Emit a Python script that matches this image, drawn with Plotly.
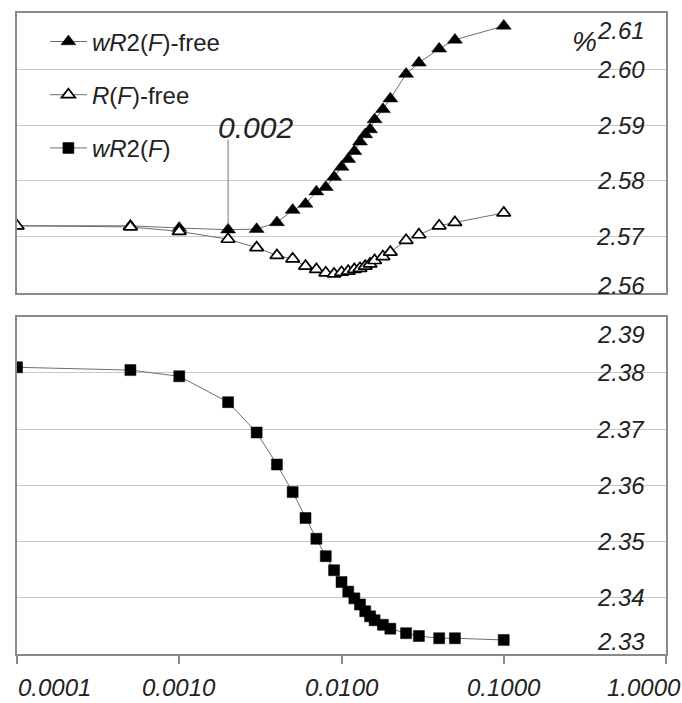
import math
import plotly.graph_objects as go

# ---------------- data ----------------
F = [0.0001, 0.0005, 0.001, 0.002, 0.003, 0.004, 0.005, 0.006, 0.007, 0.008,
     0.009, 0.010, 0.011, 0.012, 0.013, 0.014, 0.015, 0.016, 0.018, 0.020,
     0.025, 0.030, 0.040, 0.050, 0.100]

wR2_free = [2.5720, 2.5720, 2.5716, 2.5713, 2.5714, 2.5726, 2.5748, 2.5759,
            2.5781, 2.5789, 2.5807, 2.5825, 2.5839, 2.5853, 2.5870, 2.5883,
            2.5892, 2.5910, 2.5928, 2.5947, 2.5991, 2.6011, 2.6036, 2.6052,
            2.6077]

R_free = [2.5720, 2.5718, 2.5710, 2.5696, 2.5681, 2.5667, 2.5661, 2.5648,
          2.5642, 2.5636, 2.5634, 2.5637, 2.5639, 2.5642, 2.5644, 2.5648,
          2.5652, 2.5658, 2.5665, 2.5673, 2.5694, 2.5704, 2.5720, 2.5726,
          2.5743]

wR2 = [2.3810, 2.3805, 2.3794, 2.3748, 2.3694, 2.3637, 2.3588, 2.3542,
       2.3505, 2.3474, 2.3449, 2.3428, 2.3411, 2.3399, 2.3388, 2.3376,
       2.3367, 2.3360, 2.3352, 2.3345, 2.3337, 2.3332, 2.3328, 2.3328,
       2.3325]

x_tickvals = [0.0001, 0.001, 0.01, 0.1, 1.0]
x_ticktext = ["0.0001", "0.0010", "0.0100", "0.1000", "1.0000"]

top_ticks = [2.56, 2.57, 2.58, 2.59, 2.60, 2.61]
bot_ticks = [2.33, 2.34, 2.35, 2.36, 2.37, 2.38, 2.39]

annot_F = 0.002
annot_text = "0.002"

# ---------------- styles ----------------
FONT = "Liberation Sans, Arial, sans-serif"
LINE_C = "#6e6e6e"
GRID_C = "#c8c8c8"
BORDER_C = "#8a8a8a"

fig = go.Figure()

fig.add_trace(go.Scatter(
    x=F, y=wR2_free, mode="lines+markers", name="<i>wR</i>2(<i>F</i>)-free",
    legendgroup="a", xaxis="x", yaxis="y",
    line=dict(color=LINE_C, width=1),
    marker=dict(symbol="triangle-up", size=13, color="black",
                line=dict(color="black", width=0.5)),
))
fig.add_trace(go.Scatter(
    x=F, y=R_free, mode="lines+markers", name="<i>R</i>(<i>F</i>)-free",
    legendgroup="b", xaxis="x", yaxis="y",
    line=dict(color=LINE_C, width=1),
    marker=dict(symbol="triangle-up", size=12, color="white",
                line=dict(color="black", width=1.7)),
))
fig.add_trace(go.Scatter(
    x=F, y=wR2, mode="lines+markers", name="<i>wR</i>2(<i>F</i>)",
    legendgroup="c", xaxis="x2", yaxis="y2",
    line=dict(color=LINE_C, width=1),
    marker=dict(symbol="square", size=11, color="black",
                line=dict(color="black", width=0.5)),
))

axis_common = dict(showline=True, mirror=True, linecolor=BORDER_C, linewidth=1.5,
                   zeroline=False)

top_dom = [0.5632, 1.0]
bot_dom = [0.0, 0.5262]

annotations = []
# y tick labels (inside, right aligned)
for i, v in enumerate(top_ticks):
    ys = 0
    if i == 0:
        ys = 7
    elif i == len(top_ticks) - 1:
        ys = -17
    annotations.append(dict(text=f"{v:.2f}", xref="paper", x=1, xanchor="right",
                            xshift=-19, yref="y", y=v, yanchor="middle", yshift=ys,
                            showarrow=False,
                            font=dict(family=FONT, size=24, color="#222", style="italic")))
for i, v in enumerate(bot_ticks):
    ys = 0
    if i == 0:
        ys = 12
    elif i == len(bot_ticks) - 1:
        ys = -18
    annotations.append(dict(text=f"{v:.2f}", xref="paper", x=1, xanchor="right",
                            xshift=-19, yref="y2", y=v, yanchor="middle", yshift=ys,
                            showarrow=False,
                            font=dict(family=FONT, size=24, color="#222", style="italic")))
# x tick labels (log axis -> annotation x given in log10 units)
for i, (v, t) in enumerate(zip(x_tickvals, x_ticktext)):
    xs = 0
    if i == 0:
        xs = 37
    elif i == len(x_tickvals) - 1:
        xs = -22
    annotations.append(dict(text=t, xref="x2", x=math.log10(v), xanchor="center",
                            xshift=xs, yref="paper", y=0, yanchor="bottom",
                            yshift=-49, showarrow=False,
                            font=dict(family=FONT, size=24, color="#222", style="italic")))
# percent sign
annotations.append(dict(text="%", xref="paper", x=0.875, xanchor="center",
                        yref="paper", y=0.956, yanchor="middle", showarrow=False,
                        font=dict(family=FONT, size=28, color="#222", style="italic")))
# 0.002 annotation text
ai = F.index(annot_F)
annotations.append(dict(text=annot_text, xref="x", x=math.log10(annot_F), xshift=27,
                        yref="y", y=wR2_free[ai], yshift=102, xanchor="center",
                        yanchor="middle", showarrow=False,
                        font=dict(family=FONT, size=30, color="#222", style="italic")))

shapes = [dict(type="line", xref="x", yref="y", x0=annot_F, x1=annot_F,
               ysizemode="pixel", yanchor=wR2_free[ai], y0=5, y1=90,
               line=dict(color="#777", width=1))]

fig.update_layout(
    width=682, height=703,
    margin=dict(l=17, r=16, t=13, b=49),
    paper_bgcolor="white", plot_bgcolor="white",
    font=dict(family=FONT, color="#222"),
    showlegend=True,
    legend=dict(x=0.043, y=0.99, xanchor="left", yanchor="top",
                bgcolor="rgba(0,0,0,0)", borderwidth=0,
                font=dict(family=FONT, size=24, color="#222"),
                tracegroupgap=19, itemwidth=37, traceorder="grouped"),
    xaxis=dict(type="log", range=[-4, 0], domain=[0, 1], anchor="y",
               showticklabels=False, ticks="", showgrid=False, **axis_common),
    yaxis=dict(range=[2.56, 2.61], domain=top_dom, anchor="x", side="right",
               tickvals=top_ticks, showticklabels=False, ticks="",
               showgrid=True, gridcolor=GRID_C, gridwidth=1, **axis_common),
    xaxis2=dict(type="log", range=[-4, 0], domain=[0, 1], anchor="y2",
                tickvals=x_tickvals, showticklabels=False, ticks="outside",
                ticklen=8, tickcolor=BORDER_C, tickwidth=1.5, showgrid=False,
                **axis_common),
    yaxis2=dict(range=[2.33, 2.39], domain=bot_dom, anchor="x2", side="right",
                tickvals=bot_ticks, showticklabels=False, ticks="",
                showgrid=True, gridcolor=GRID_C, gridwidth=1, **axis_common),
    annotations=annotations,
    shapes=shapes,
)

fig.write_html("out.html", config={"displayModeBar": False},
               post_script="document.body.style.margin='0';document.body.style.overflow='hidden';")
